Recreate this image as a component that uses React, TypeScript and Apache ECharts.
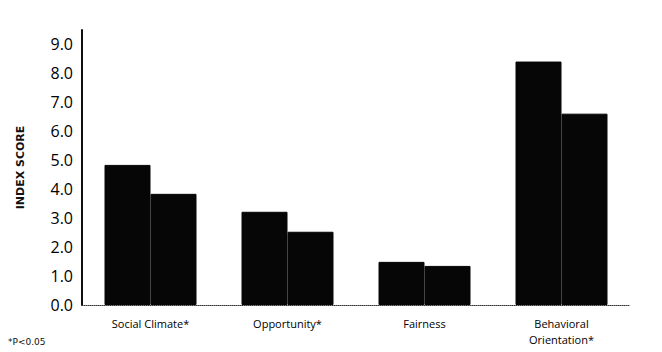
import React, { useEffect, useRef } from "react";
import * as echarts from "echarts";

const categories = ["Social Climate*", "Opportunity*", "Fairness", "Behavioral\nOrientation*"];
const seriesA = [4.84, 3.22, 1.49, 8.41];
const seriesB = [3.84, 2.53, 1.35, 6.61];
const yTicks = { min: 0, max: 9.5, interval: 1 };
const yAxisTitle = "INDEX SCORE";
const footnote = "*P<0.05";

export default function App() {
  const ref = useRef<HTMLDivElement>(null);
  useEffect(() => {
    if (!ref.current) return;
    const chart = echarts.init(ref.current, undefined, { renderer: "svg" });
    chart.setOption({
      animation: false,
      backgroundColor: "#ffffff",
      grid: { left: 82, right: 32, top: 30, bottom: 47, containLabel: false },
      xAxis: {
        type: "category",
        data: categories,
        axisLine: { show: true, lineStyle: { color: "#333", width: 1, type: "dotted" } },
        axisTick: { show: false },
        axisLabel: {
          color: "#000",
          fontFamily: "Open Sans",
          fontSize: 11,
          margin: 10,
          lineHeight: 16,
        },
      },
      yAxis: {
        type: "value",
        min: yTicks.min,
        max: yTicks.max,
        interval: yTicks.interval,
        name: yAxisTitle,
        nameLocation: "middle",
        nameGap: 56,
        nameRotate: 90,
        nameTextStyle: {
          color: "#111",
          fontFamily: "DejaVu Sans",
          fontWeight: "bold",
          fontSize: 11,
        },
        axisLine: { show: true, lineStyle: { color: "#111", width: 2 } },
        axisTick: { show: false },
        splitLine: { show: false },
        axisLabel: {
          color: "#000",
          fontFamily: "Open Sans",
          fontSize: 16,
          margin: 9,
          showMaxLabel: false,
          formatter: (v: number) => v.toFixed(1),
        },
      },
      series: [
        {
          type: "bar",
          data: seriesA,
          barWidth: 46,
          barGap: "0%",
          itemStyle: { color: "#060606", borderColor: "#060606", borderWidth: 1 },
        },
        {
          type: "bar",
          data: seriesB,
          barWidth: 46,
          barGap: "0%",
          itemStyle: { color: "#060606", borderColor: "#060606", borderWidth: 1 },
        },
      ],
      graphic: [
        {
          type: "text",
          left: 8,
          top: 337,
          style: {
            text: footnote,
            fill: "#111",
            font: "9px 'DejaVu Sans'",
          },
        },
      ],
    });
    return () => chart.dispose();
  }, []);
  return (
    <div
      ref={ref}
      style={{ position: "fixed", left: 0, top: 0, width: 662, height: 352, background: "#fff" }}
    />
  );
}
